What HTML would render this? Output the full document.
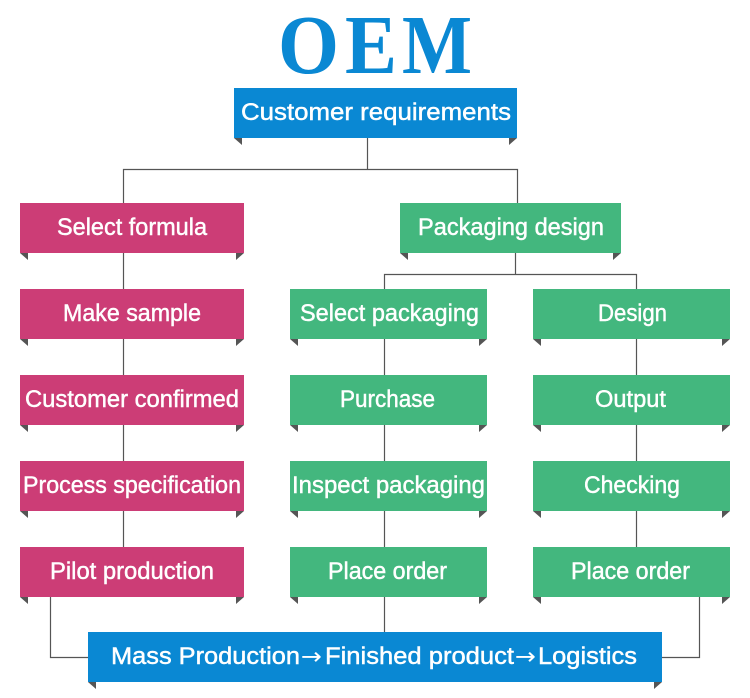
<!DOCTYPE html>
<html lang="en">
<head>
<meta charset="utf-8">
<title>OEM</title>
<style>
html,body{margin:0;padding:0;background:#fff;width:750px;height:698px;overflow:hidden}
svg{display:block}
text.t{font-family:"Liberation Sans",sans-serif;font-size:24px;fill:#fff;stroke:#fff;stroke-width:.45px}
text.a{font-family:"DejaVu Sans",sans-serif;font-size:23px;fill:#fff}
text.o{font-family:"Liberation Serif",serif;font-size:84px;font-weight:bold;fill:#0a88d3}
.l{fill:none;stroke:#555;stroke-width:1.2}
.f{fill:#555}
.b{fill:#0a88d3}.p{fill:#cc3d76}.g{fill:#43b77e}
</style>
</head>
<body>
<svg width="750" height="698" viewBox="0 0 750 698" xmlns="http://www.w3.org/2000/svg">
<text class="o" x="278" y="73" textLength="61" lengthAdjust="spacingAndGlyphs">O</text>
<text class="o" x="345" y="73" textLength="52" lengthAdjust="spacingAndGlyphs">E</text>
<text class="o" x="402" y="73" textLength="70" lengthAdjust="spacingAndGlyphs">M</text>

<!-- connectors -->
<path class="l" d="M367.5 138V169.5M123.5 203V169.5H517.5V203"/>
<path class="l" d="M123.5 253V547"/>
<path class="l" d="M515.5 253V274.5M384.5 289V274.5H636.5V289"/>
<path class="l" d="M384.5 339V632"/>
<path class="l" d="M636.5 339V547"/>
<path class="l" d="M50.5 597V657.5H88"/>
<path class="l" d="M699.5 597V657.5H662"/>

<!-- fold corners -->
<path class="f" d="M234 138h8v7zM517 138h-8v7z"/>
<path class="f" d="M20 253h8v7zM244 253h-8v7zM20 339h8v7zM244 339h-8v7zM20 425h8v7zM244 425h-8v7zM20 511h8v7zM244 511h-8v7zM20 597h8v7zM244 597h-8v7z"/>
<path class="f" d="M400 253h8v7zM621 253h-8v7z"/>
<path class="f" d="M290 339h8v7zM487 339h-8v7zM290 425h8v7zM487 425h-8v7zM290 511h8v7zM487 511h-8v7zM290 597h8v7zM487 597h-8v7z"/>
<path class="f" d="M533 339h8v7zM730 339h-8v7zM533 425h8v7zM730 425h-8v7zM533 511h8v7zM730 511h-8v7zM533 597h8v7zM730 597h-8v7z"/>
<path class="f" d="M88 682h8v7zM662 682h-8v7z"/>

<!-- boxes -->
<rect class="b" x="234" y="88" width="283" height="50"/>
<rect class="p" x="20" y="203" width="224" height="50"/>
<rect class="p" x="20" y="289" width="224" height="50"/>
<rect class="p" x="20" y="375" width="224" height="50"/>
<rect class="p" x="20" y="461" width="224" height="50"/>
<rect class="p" x="20" y="547" width="224" height="50"/>
<rect class="g" x="400" y="203" width="221" height="50"/>
<rect class="g" x="290" y="289" width="197" height="50"/>
<rect class="g" x="290" y="375" width="197" height="50"/>
<rect class="g" x="290" y="461" width="197" height="50"/>
<rect class="g" x="290" y="547" width="197" height="50"/>
<rect class="g" x="533" y="289" width="197" height="50"/>
<rect class="g" x="533" y="375" width="197" height="50"/>
<rect class="g" x="533" y="461" width="197" height="50"/>
<rect class="g" x="533" y="547" width="197" height="50"/>
<rect class="b" x="88" y="632" width="574" height="50"/>

<!-- labels -->
<text class="t" x="241" y="120" textLength="270" lengthAdjust="spacingAndGlyphs">Customer requirements</text>
<text class="t" x="57" y="235" textLength="150" lengthAdjust="spacingAndGlyphs">Select formula</text>
<text class="t" x="63" y="321" textLength="138" lengthAdjust="spacingAndGlyphs">Make sample</text>
<text class="t" x="25" y="407" textLength="214" lengthAdjust="spacingAndGlyphs">Customer confirmed</text>
<text class="t" x="23" y="493" textLength="218" lengthAdjust="spacingAndGlyphs">Process specification</text>
<text class="t" x="50" y="579" textLength="164" lengthAdjust="spacingAndGlyphs">Pilot production</text>
<text class="t" x="418" y="235" textLength="186" lengthAdjust="spacingAndGlyphs">Packaging design</text>
<text class="t" x="300" y="321" textLength="179" lengthAdjust="spacingAndGlyphs">Select packaging</text>
<text class="t" x="340" y="407" textLength="95" lengthAdjust="spacingAndGlyphs">Purchase</text>
<text class="t" x="292" y="493" textLength="193" lengthAdjust="spacingAndGlyphs">Inspect packaging</text>
<text class="t" x="328" y="579" textLength="119" lengthAdjust="spacingAndGlyphs">Place order</text>
<text class="t" x="598" y="321" textLength="69" lengthAdjust="spacingAndGlyphs">Design</text>
<text class="t" x="595" y="407" textLength="71" lengthAdjust="spacingAndGlyphs">Output</text>
<text class="t" x="584" y="493" textLength="96" lengthAdjust="spacingAndGlyphs">Checking</text>
<text class="t" x="571" y="579" textLength="119" lengthAdjust="spacingAndGlyphs">Place order</text>
<text class="t" x="111" y="664" textLength="189" lengthAdjust="spacingAndGlyphs">Mass Production</text>
<text class="a" x="301" y="664" textLength="21" lengthAdjust="spacingAndGlyphs">→</text>
<text class="t" x="325" y="664" textLength="189" lengthAdjust="spacingAndGlyphs">Finished product</text>
<text class="a" x="515" y="664" textLength="21" lengthAdjust="spacingAndGlyphs">→</text>
<text class="t" x="538" y="664" textLength="99" lengthAdjust="spacingAndGlyphs">Logistics</text>
</svg>
</body>
</html>
